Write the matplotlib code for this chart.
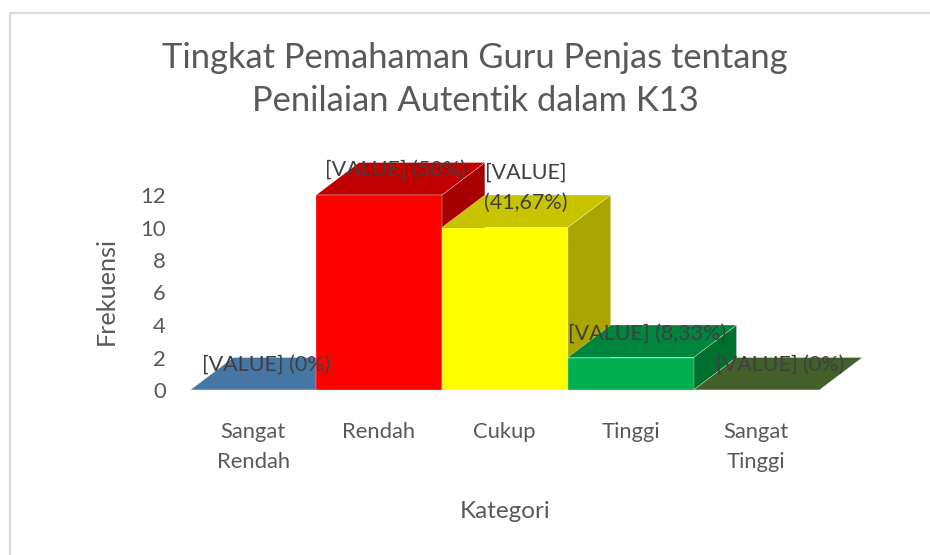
import matplotlib
matplotlib.use("Agg")
import matplotlib.pyplot as plt
from matplotlib.lines import Line2D
from matplotlib.patches import Polygon, Rectangle

categories = ["Sangat\nRendah", "Rendah", "Cukup", "Tinggi", "Sangat\nTinggi"]
values = [0, 12, 10, 2, 0]
percents = ["(0%)", "(50%)", "(41,67%)", "(8,33%)", "(0%)"]
yticks = [0, 2, 4, 6, 8, 10, 12]

front_colors = ["#4676A4", "#FF0000", "#FFFF00", "#00B050", "#43602B"]
top_colors = ["#4676A4", "#C00000", "#C8C400", "#00853C", "#43602B"]
side_colors = ["#3A6288", "#A60000", "#A8A400", "#00702F", "#384F24"]

TEXT = "#595959"
LABEL = "#404040"

def main():
    plt.rcParams['font.family'] = ['Lato', 'DejaVu Sans']
    W, H = 930, 555
    fig = plt.figure(figsize=(W / 100, H / 100), dpi=100)
    # frame only shows on the left and top, the rest is cropped
    fig.add_artist(Line2D([10 / W, 10 / W, 1], [0, 1 - 12.5 / H, 1 - 12.5 / H],
                          color="#D9D9D9", linewidth=1.6))

    ax = fig.add_axes([190.3 / W, 1 - 390 / H, 629 / W, 195 / H])
    ax.set_xlim(-0.5, 4.5)
    ax.set_ylim(0, 12)
    ax.patch.set_alpha(0)
    for s in ax.spines.values():
        s.set_visible(False)

    # depth of the 3d look, in data units
    dx = 0.342
    dy = 2.0
    bw = 0.5
    edge = dict(edgecolor="#FFFFFF", linewidth=0.2, clip_on=False)
    for i, v in enumerate(values):
        l, r = i - bw, i + bw
        ax.add_patch(Polygon([(r, 0), (r + dx, dy), (r + dx, v + dy), (r, v)],
                             facecolor=side_colors[i], zorder=2 + i, **edge))
        ax.add_patch(Polygon([(l, v), (l + dx, v + dy), (r + dx, v + dy), (r, v)],
                             facecolor=top_colors[i], zorder=2 + i, **edge))
        ax.add_patch(Rectangle((l, 0), 1, v, facecolor=front_colors[i],
                               zorder=2 + i, **edge))

    ax.set_xticks(range(len(categories)))
    ax.set_xticklabels(categories, fontsize=15.8, color=TEXT, linespacing=1.6)
    ax.set_yticks(yticks)
    ax.set_yticklabels([str(t) for t in yticks], fontsize=15.8, color=TEXT)
    ax.tick_params(axis='x', length=0, pad=23)
    ax.tick_params(axis='y', length=0, pad=17.5)

    # labels are placed relative to each bar, as in the source chart
    offsets = [(0.10, 1.54), (0.13, 1.54), (0.165, 1.5), (0.135, 1.45), (0.19, 1.54)]
    for i, p in enumerate(percents):
        x = i + offsets[i][0]
        y = values[i] + offsets[i][1]
        if i == 2:
            ax.text(x, y + 1.9, "[VALUE]", fontsize=15.5, color=LABEL, ha='center', va='center', zorder=20)
            ax.text(x, y, p, fontsize=15.5, color=LABEL, ha='center', va='center', zorder=20)
        else:
            ax.text(x, y, "[VALUE] " + p, fontsize=15.5, color=LABEL,
                    ha='center', va='center', zorder=20)

    fig.text(475 / W, 1 - 58 / H, "Tingkat Pemahaman Guru Penjas tentang",
             fontsize=24.8, color=TEXT, ha='center', va='center')
    fig.text(475 / W, 1 - 101 / H, "Penilaian Autentik dalam K13",
             fontsize=24.8, color=TEXT, ha='center', va='center')
    fig.text(505 / W, 1 - 511 / H, "Kategori", fontsize=17.5, color=TEXT,
             ha='center', va='center')
    fig.text(106 / W, 1 - 291 / H, "Frekuensi", fontsize=18.2, color=TEXT,
             ha='center', va='center', rotation=90)

    fig.savefig("out.png", dpi=100)

if __name__ == "__main__":
    main()
